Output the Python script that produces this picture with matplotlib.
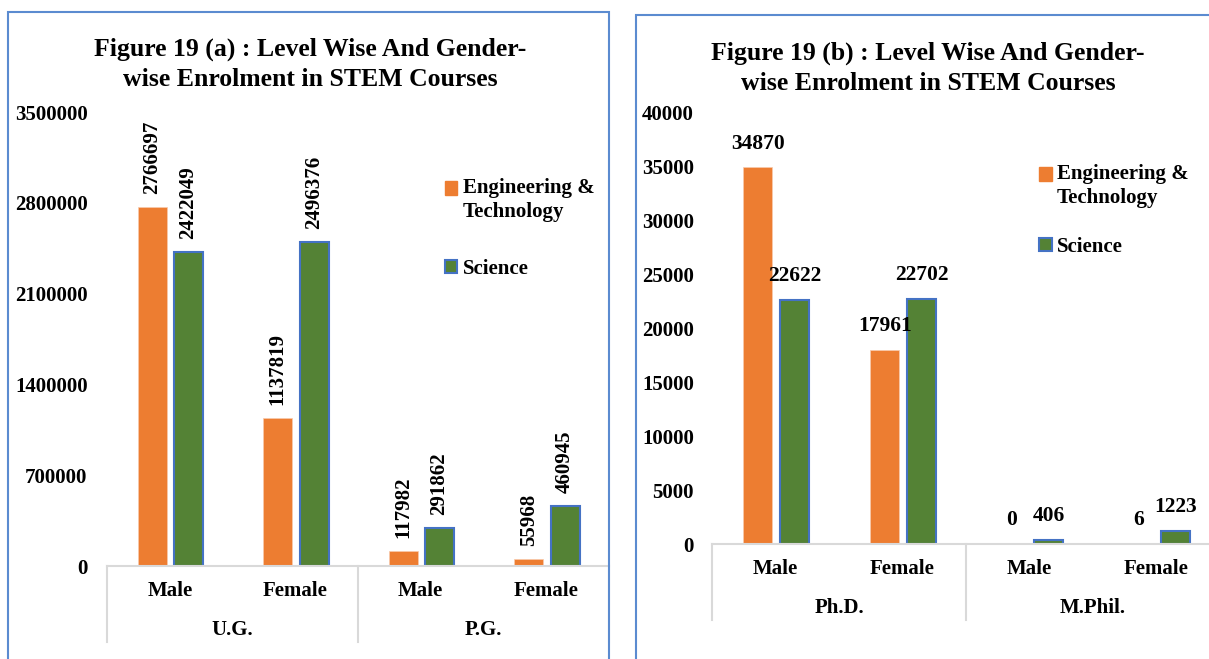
import numpy as np
import matplotlib
matplotlib.use("Agg")
import matplotlib.pyplot as plt
from matplotlib.patches import Rectangle, Patch
from matplotlib.lines import Line2D
from matplotlib.ticker import FuncFormatter
from matplotlib.legend_handler import HandlerPatch

plt.rcParams["font.family"] = ["Liberation Serif", "DejaVu Serif"]
plt.rcParams["font.weight"] = "bold"

# data
genders = ["Male", "Female", "Male", "Female"]
levels_a = ["U.G.", "P.G."]
levels_b = ["Ph.D.", "M.Phil."]
eng_a = [2766697, 1137819, 117982, 55968]
sci_a = [2422049, 2496376, 291862, 460945]
eng_b = [34870, 17961, 0, 6]
sci_b = [22622, 22702, 406, 1223]
series = ["Engineering &\nTechnology", "Science"]

ORANGE = "#ED7D31"
GREEN = "#548235"
BLUE = "#4472C4"
GRAY = "#D9D9D9"
FRAME = "#5B8BD0"

W, H = 1209, 659
fig = plt.figure(figsize=(W / 100, H / 100), dpi=100)


def px_box(x0, y0, x1, y1):
    # pixel box (top-left origin) -> figure fraction [l, b, w, h]
    return [x0 / W, 1 - y1 / H, (x1 - x0) / W, (y1 - y0) / H]


# panel borders
for x0, y0, x1, y1 in [(8, 12, 609, 680), (636, 15, 1230, 680)]:
    fig.patches.append(Rectangle((x0 / W, 1 - y1 / H), (x1 - x0) / W, (y1 - y0) / H,
                                 transform=fig.transFigure, fill=False,
                                 edgecolor=FRAME, lw=1.5, clip_on=False))


def raised(shift):
    # legend marker lifted to sit next to the first line of a 2-line label
    def make(legend, orig_handle, xdescent, ydescent, width, height, fontsize):
        return Rectangle((-xdescent, -ydescent + shift), width, height)
    return HandlerPatch(patch_func=make)


def panel(box, eng, sci, levels, ymax, step, title, title_xy, legend_xy,
          rotated, ypad, sep_px, lspace):
    ax = fig.add_axes(px_box(*box))
    x = np.arange(len(genders))
    b1 = ax.bar(x - 0.14, eng, width=0.23, color=ORANGE, edgecolor="#F8CBAD", lw=0.5)
    b2 = ax.bar(x + 0.15, sci, width=0.23, color=GREEN, edgecolor=BLUE, lw=1.5)
    for bars, vals in [(b1, eng), (b2, sci)]:
        for r, v in zip(bars, vals):
            if rotated:
                ax.annotate(str(v), (r.get_x() + r.get_width() / 2, r.get_height()),
                            xytext=(0, 9.5), textcoords="offset points",
                            rotation=90, ha="center", va="bottom", fontsize=15)
            else:
                ax.annotate(str(v), (r.get_x() + r.get_width() / 2, r.get_height()),
                            xytext=(0, 10), textcoords="offset points",
                            ha="center", va="bottom", fontsize=15.5)
    ax.set_xlim(-0.5, 3.5)
    ax.set_ylim(0, ymax)
    ax.set_yticks(np.arange(0, ymax + 1, step))
    ax.yaxis.set_major_formatter(FuncFormatter(lambda v, p: f"{v:.0f}"))
    ax.tick_params(axis="y", length=0, pad=ypad, labelsize=15)
    ax.set_xticks(x, genders)
    ax.tick_params(axis="x", length=0, pad=11, labelsize=15)
    for s in ["left", "top", "right"]:
        ax.spines[s].set_visible(False)
    ax.spines["bottom"].set_color(GRAY)
    ax.spines["bottom"].set_linewidth(1.5)

    # multi-level category axis
    depth = sep_px / (box[3] - box[1])
    tr = ax.get_xaxis_transform()
    for xs in [-0.5, 1.5, 3.5]:
        ax.add_line(Line2D([xs, xs], [0, -depth], transform=tr, color=GRAY,
                           lw=1.5, clip_on=False))
    for i, lv in enumerate(levels):
        ax.annotate(lv, (2 * i + 0.5, 0), xycoords=tr, xytext=(0, -46),
                    textcoords="offset points", ha="center", va="center",
                    fontsize=15)

    h1 = Patch(facecolor=ORANGE, edgecolor=ORANGE)
    h2 = Patch(facecolor=GREEN, edgecolor=BLUE, lw=1.5)
    leg = ax.legend([h1, h2], series, loc="upper left",
                    bbox_to_anchor=(legend_xy[0] / W, 1 - legend_xy[1] / H),
                    bbox_transform=fig.transFigure, frameon=False, fontsize=15,
                    handlelength=0.6, handleheight=0.6, handletextpad=0.25,
                    labelspacing=lspace, borderaxespad=0, borderpad=0,
                    handler_map={h1: raised(9.0), h2: raised(0)})
    for t in leg.get_texts():
        t.set_linespacing(1.3)

    fig.text(title_xy[0] / W, 1 - title_xy[1] / H, title, ha="center",
             va="center", fontsize=18.5, linespacing=1.4)
    return ax


panel((107, 112, 609, 566), eng_a, sci_a, levels_a, 3500000, 700000,
      "Figure 19 (a) : Level Wise And Gender-\nwise Enrolment in STEM Courses",
      (310, 64), (445, 178), True, 14, 76, 1.75)
panel((712, 112, 1220, 544), eng_b, sci_b, levels_b, 40000, 5000,
      "Figure 19 (b) : Level Wise And Gender-\nwise Enrolment in STEM Courses",
      (928, 68), (1039, 164), False, 13, 76, 1.35)

fig.savefig("out.png", dpi=100)
